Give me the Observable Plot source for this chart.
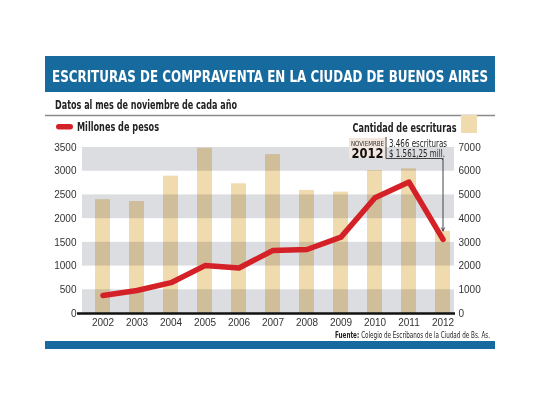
<!DOCTYPE html>
<html>
<head>
<meta charset="utf-8">
<script src="https://cdn.jsdelivr.net/npm/d3@7"></script>
<script src="https://cdn.jsdelivr.net/npm/@observablehq/plot@0.6"></script>
<style>
  body { margin: 0; background: #fff; }
  #chart { width: 540px; height: 405px; }
</style>
</head>
<body>
<div id="chart"></div>
<script>
const years = ["2002", "2003", "2004", "2005", "2006", "2007", "2008", "2009", "2010", "2011", "2012"];
// millones de pesos (eje izquierdo)
const millones = [380, 485, 650, 1010, 960, 1330, 1350, 1610, 2440, 2770, 1561.25];
// cantidad de escrituras (eje derecho)
const escrituras = [4800, 4720, 5790, 6970, 5470, 6700, 5190, 5120, 6030, 6100, 3466];
const leftTicks = [0, 500, 1000, 1500, 2000, 2500, 3000, 3500];
const bandas = [[0, 500], [1000, 1500], [2000, 2500], [3000, 3500]];
const ratio = 2; // 7000 escrituras <-> 3500 millones

const narrow = "'Liberation Sans Narrow', 'DejaVu Sans Condensed', 'Roboto Condensed', Roboto, sans-serif";
const blue = "#166a9e";
const red = "#d42027";
const beige = "#f0dbae";

const data = years.map((year, i) => ({year, millones: millones[i], escrituras: escrituras[i]}));
const last = data[data.length - 1];

const chart = Plot.plot({
  width: 540,
  height: 405,
  marginTop: 147,
  marginBottom: 92,
  marginLeft: 82,
  marginRight: 86,
  style: {fontFamily: "'Liberation Sans', Arial, sans-serif", fontSize: "10px", color: "#333", background: "#fff"},
  x: {type: "band", domain: years, range: [85, 459], paddingInner: 0.565, paddingOuter: 0.2, axis: null},
  y: {domain: [0, 3500], axis: null},
  marks: [
    Plot.rect(bandas, {y1: (d) => d[0], y2: (d) => d[1], fill: "#dcdde1"}),
    Plot.barY(data, {x: "year", y: (d) => d.escrituras / ratio, fill: beige, mixBlendMode: "multiply"}),
    Plot.ruleY([0], {stroke: "#111", strokeWidth: 2.5, insetLeft: -5, insetRight: -1}),
    Plot.axisY(leftTicks, {anchor: "left", tickSize: 0, tickPadding: 6, label: null, tickFormat: (d) => String(d)}),
    Plot.axisY(leftTicks, {anchor: "right", tickSize: 0, tickPadding: 4, label: null, tickFormat: (d) => String(d * ratio)}),
    Plot.axisX(years, {tickSize: 0, tickPadding: 5, label: null}),
    Plot.line(data, {x: "year", y: "millones", stroke: red, strokeWidth: 5.5}),
    Plot.arrow([last], {
      x1: "year", x2: "year",
      y1: () => 3270, y2: (d) => d.escrituras / ratio + 8,
      stroke: "#444", strokeWidth: 1, headLength: 5, headAngle: 50
    })
  ]
});
document.getElementById("chart").append(chart);

// ---- decorado (cabecera, leyenda, nota, fuente) ----
const svg = d3.select(chart);
const xs = chart.scale("x");
const arrowX = xs.apply(last.year) + xs.bandwidth / 2;
const deco = svg.append("g").attr("text-anchor", "start");

function label(x, y, width, font, fill, text) {
  return deco.append("text").attr("x", x).attr("y", y)
    .attr("textLength", width).attr("lengthAdjust", "spacingAndGlyphs")
    .style("font", font).attr("fill", fill)
    .text(text);
}

deco.append("rect").attr("x", 45).attr("y", 56).attr("width", 450).attr("height", 36).attr("fill", blue);
label(52, 81.5, 436, `bold 16.5px ${narrow}`, "#fff", "ESCRITURAS DE COMPRAVENTA EN LA CIUDAD DE BUENOS AIRES");

label(55, 109, 182, `bold 12.5px ${narrow}`, "#222", "Datos al mes de noviembre de cada año");
deco.append("line").attr("x1", 45).attr("x2", 495).attr("y1", 115.5).attr("y2", 115.5)
  .attr("stroke", "#8a8a8a").attr("stroke-width", 1.5);

// leyenda
deco.append("rect").attr("x", 56).attr("y", 124).attr("width", 17).attr("height", 5.5).attr("rx", 2.75).attr("fill", red);
label(77, 131, 82, `bold 12px ${narrow}`, "#222", "Millones de pesos");
label(352.5, 131.5, 104, `bold 12px ${narrow}`, "#222", "Cantidad de escrituras");
deco.append("rect").attr("x", 461).attr("y", 115).attr("width", 16).attr("height", 18).attr("fill", beige);

// nota 2012
const fmt = (v) => v.toLocaleString("es-AR", {minimumFractionDigits: 2});
deco.append("rect").attr("x", 349).attr("y", 138).attr("width", 36).attr("height", 20).attr("fill", "#f3e6df");
label(351, 145.5, 33, `7px ${narrow}`, "#333", "NOVIEMRBE");
label(351.5, 157.5, 32, `bold 14px ${narrow}`, "#111", last.year);
deco.append("path")
  .attr("d", `M386,137V158.5H${arrowX}V160`)
  .attr("fill", "none").attr("stroke", "#444").attr("stroke-width", 1);
label(389, 147, 58, `10px ${narrow}`, "#222", `${last.escrituras.toLocaleString("es-AR")} escrituras`);
label(389, 156.5, 56, `10px ${narrow}`, "#222", `$ ${fmt(last.millones)} mill.`);

// fuente y pie
const fuente = label(335, 337.7, 155, `8.5px ${narrow}`, "#222", null);
fuente.append("tspan").attr("font-weight", "bold").text("Fuente: ");
fuente.append("tspan").text("Colegio de Escribanos de la Ciudad de Bs. As.");
deco.append("rect").attr("x", 45).attr("y", 341).attr("width", 450).attr("height", 8).attr("fill", blue);
</script>
</body>
</html>
